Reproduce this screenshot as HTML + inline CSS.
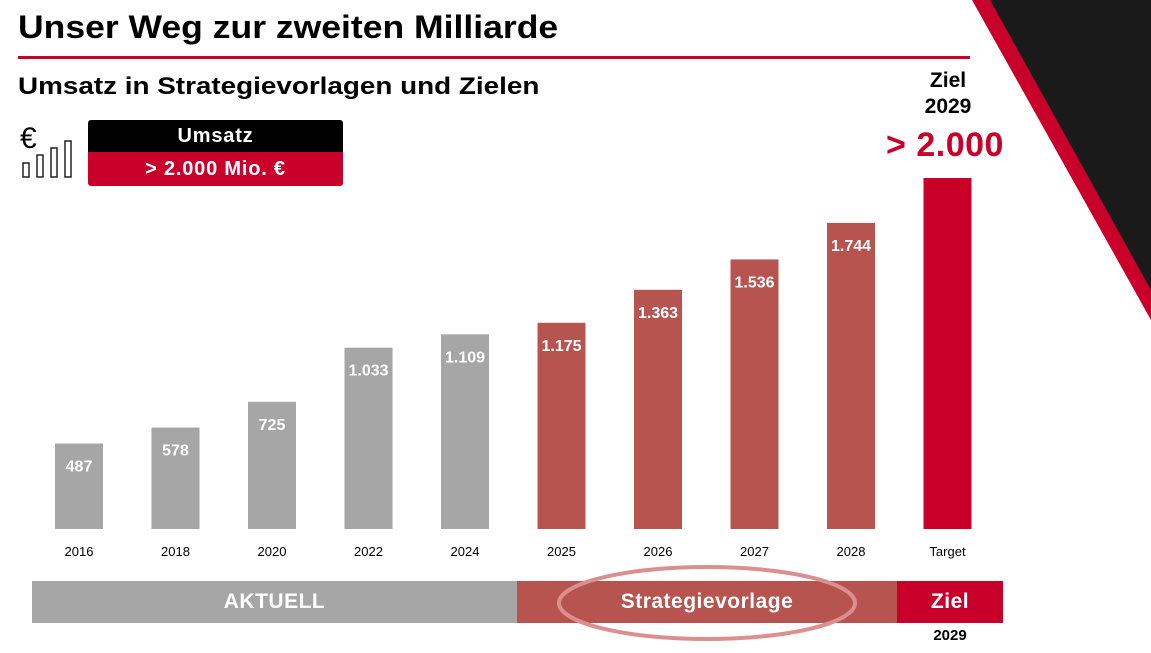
<!DOCTYPE html>
<html><head><meta charset="utf-8"><style>
body{margin:0;width:1151px;height:653px;background:#fff;overflow:hidden;font-family:"Liberation Sans","DejaVu Sans",sans-serif;position:relative}
.abs{position:absolute}
</style></head><body>
<svg class="abs" style="left:0;top:0" width="1151" height="653">
<polygon points="972,0 1151,0 1151,320" fill="#c8002a"/>
<polygon points="990,0 1151,0 1151,290" fill="#1a1a1a"/>
</svg>
<div class="abs" style="left:18px;top:9px;font-size:32px;font-weight:bold;color:#000;transform:scaleX(1.11);transform-origin:left;white-space:nowrap">Unser Weg zur zweiten Milliarde</div>
<div class="abs" style="left:18px;top:56px;width:952px;height:3px;background:#c8002a"></div>
<div class="abs" style="left:18px;top:73px;font-size:24px;font-weight:bold;color:#000;transform:scaleX(1.16);transform-origin:left;white-space:nowrap">Umsatz in Strategievorlagen und Zielen</div>
<svg class="abs" style="left:18px;top:120px" width="60" height="62">
<text x="2" y="28" font-size="30" font-family="Liberation Sans">€</text>
<rect x="5" y="43" width="6" height="14" fill="none" stroke="#222" stroke-width="1.5"/>
<rect x="19" y="35" width="6" height="22" fill="none" stroke="#222" stroke-width="1.5"/>
<rect x="33" y="28" width="6" height="29" fill="none" stroke="#222" stroke-width="1.5"/>
<rect x="47" y="21" width="6" height="36" fill="none" stroke="#222" stroke-width="1.5"/>
</svg>
<div class="abs" style="left:88px;top:120px;width:255px;height:32px;background:#000;color:#fff;font-weight:bold;font-size:20px;text-align:center;line-height:32px;border-radius:3px 3px 0 0;letter-spacing:0.8px">Umsatz</div>
<div class="abs" style="left:88px;top:152px;width:255px;height:34px;background:#c8002a;color:#fff;font-weight:bold;font-size:20px;text-align:center;line-height:34px;border-radius:0 0 3px 3px;letter-spacing:0.8px">&gt; 2.000 Mio. €</div>
<div class="abs" style="left:898px;top:68px;width:100px;text-align:center;font-size:21px;font-weight:bold;line-height:26px">Ziel<br>2029</div>
<div class="abs" style="left:870px;top:126px;width:150px;text-align:center;font-size:34px;font-weight:bold;color:#c8002a;letter-spacing:0.5px">&gt; 2.000</div>
<svg id="chart" class="abs" style="left:0;top:0" width="1151" height="653"></svg>
<div class="abs" style="left:32px;top:581px;width:485px;height:42px;background:#a6a6a6;color:#fff;font-weight:bold;font-size:21px;text-align:center;line-height:42px;letter-spacing:0.5px">AKTUELL</div>
<div class="abs" style="left:517px;top:581px;width:380px;height:42px;background:#b85450;color:#fff;font-weight:bold;font-size:21px;text-align:center;line-height:42px;letter-spacing:0.5px">Strategievorlage</div>
<div class="abs" style="left:897px;top:581px;width:106px;height:42px;background:#c8002a;color:#fff;font-weight:bold;font-size:21px;text-align:center;line-height:42px;letter-spacing:0.5px">Ziel</div>
<div class="abs" style="left:897px;top:627px;width:106px;text-align:center;font-weight:bold;font-size:15px">2029</div>
<svg class="abs" style="left:0;top:0" width="1151" height="653">
<ellipse cx="707" cy="603" rx="148" ry="36" fill="none" stroke="#dc8f8f" stroke-width="4"/>
</svg>
<script>
const categories=["2016","2018","2020","2022","2024","2025","2026","2027","2028","Target"];
const values=[487,578,725,1033,1109,1175,1363,1536,1744,2000];
const labels=["487","578","725","1.033","1.109","1.175","1.363","1.536","1.744",""];
const groups=["actual","actual","actual","actual","actual","plan","plan","plan","plan","target"];
const colors={actual:"#a6a6a6",plan:"#b85450",target:"#c8002a"};
const svg=document.getElementById('chart');
const NS="http://www.w3.org/2000/svg";
const base=529, scale=0.1755, x0=79, step=96.5, bw=48;
const xPos=i=>x0+i*step;
const yPos=v=>base-v*scale;
categories.forEach((c,i)=>{
  const r=document.createElementNS(NS,'rect');
  r.setAttribute('x',xPos(i)-bw/2);r.setAttribute('y',yPos(values[i]));
  r.setAttribute('width',bw);r.setAttribute('height',base-yPos(values[i]));
  r.setAttribute('fill',colors[groups[i]]);
  
  
  svg.appendChild(r);
  if(labels[i]){
    const t=document.createElementNS(NS,'text');
    t.setAttribute('x',xPos(i));t.setAttribute('y',yPos(values[i])+28);
    t.setAttribute('text-anchor','middle');t.setAttribute('fill','#fff');
    t.setAttribute('font-size','16');t.setAttribute('font-weight','bold');
    t.textContent=labels[i];
    
    
    svg.appendChild(t);
  }
  const a=document.createElementNS(NS,'text');
  a.setAttribute('x',xPos(i));a.setAttribute('y',base+27);
  a.setAttribute('text-anchor','middle');a.setAttribute('font-size','13');
  a.textContent=c;
  
  
  svg.appendChild(a);
});
</script>
</body></html>
